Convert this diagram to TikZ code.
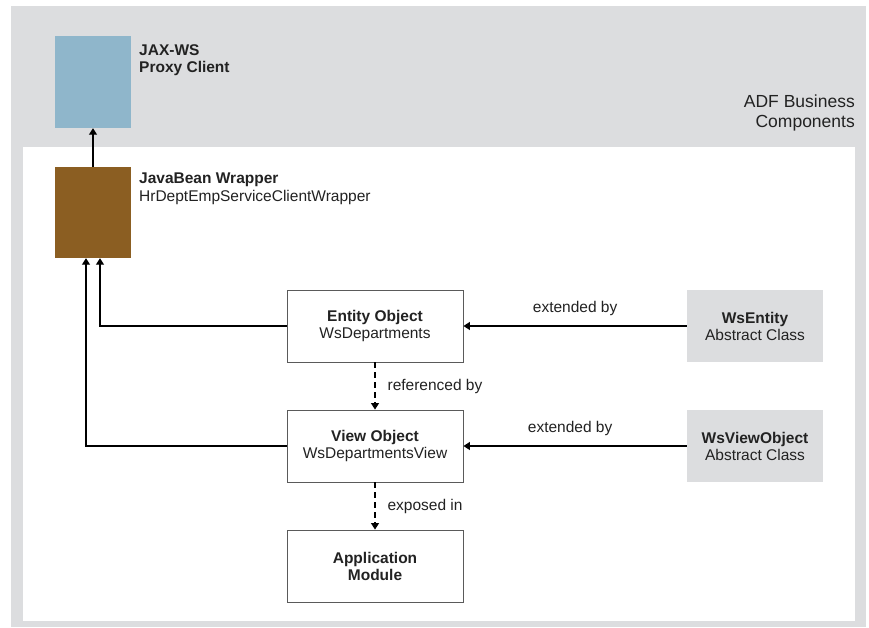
\documentclass[tikz,border=0pt]{standalone}
\usepackage{fontspec}
\setmainfont{Liberation Sans}
\usetikzlibrary{arrows.meta}
\definecolor{bggrey}{HTML}{DCDDDF}
\definecolor{proxyblue}{HTML}{8FB6CB}
\definecolor{wrapbrown}{HTML}{8B5E22}
\definecolor{boxline}{HTML}{5A5A5A}
\definecolor{txt}{HTML}{222222}
\tikzset{
  obj/.style={draw=boxline, line width=0.9pt, fill=white, minimum width=176pt, minimum height=72pt, align=center, font=\fontsize{15.5}{17}\selectfont, text=txt, inner sep=0pt},
  absbox/.style={fill=bggrey, minimum width=136pt, minimum height=72pt, align=center, font=\fontsize{15.5}{17}\selectfont, text=txt, inner sep=0pt},
  lbl/.style={font=\fontsize{15.5}{17.5}\selectfont, text=txt, inner sep=0pt, align=left},
  arr/.style={line width=1.2pt, draw=black, -{Triangle[width=8pt,length=6.5pt]}},
  darr/.style={arr, dash pattern=on 6pt off 4pt}
}
\begin{document}
\begin{tikzpicture}[x=1pt,y=-1pt]
\useasboundingbox (0,0) rectangle (869,627);
\fill[white] (0,0) rectangle (869,627);
\fill[bggrey] (11,6) rectangle (866,627);
\fill[white] (23,147) rectangle (855,621);
% left blocks
\node[fill=proxyblue, minimum width=76pt, minimum height=92pt, inner sep=0pt] (proxy) at (93,82) {};
\node[fill=wrapbrown, minimum width=76pt, minimum height=91pt, inner sep=0pt] (wrap) at (93,212.5) {};
\node[lbl, anchor=north west] (proxylbl) at (139,44) {\textbf{JAX-WS}\\\textbf{Proxy Client}};
\node[lbl, anchor=north west] (wraplbl) at (139,173) {\textbf{JavaBean Wrapper}\\HrDeptEmpServiceClientWrapper};
\node[lbl, anchor=north east, align=right, font=\fontsize{17.5}{19.5}\selectfont] (adf) at (855,95) {ADF Business\\Components};
% main objects
\node[obj] (eo) at (375,326) {\textbf{Entity Object}\\WsDepartments};
\node[obj] (vo) at (375,446) {\textbf{View Object}\\WsDepartmentsView};
\node[obj] (am) at (375,566) {\textbf{Application}\\\textbf{Module}};
\node[absbox] (wse) at (755,326) {\textbf{WsEntity}\\Abstract Class};
\node[absbox] (wsv) at (755,446) {\textbf{WsViewObject}\\Abstract Class};
% connectors
\draw[arr] (wrap.north) -- (proxy.south);
\draw[arr] (eo.west) -| ([xshift=7pt]wrap.south);
\draw[arr] (vo.west) -| ([xshift=-7pt]wrap.south);
\draw[arr] (wse.west) -- (eo.east) node[lbl, midway, above=10pt] (ext1) {extended by};
\draw[arr] (wsv.west) -- (vo.east) node[lbl, midway, above=10pt, xshift=-5pt] (ext2) {extended by};
\draw[darr] (eo.south) -- (vo.north) node[lbl, midway, right=12pt] (refby) {referenced by};
\draw[darr] (vo.south) -- (am.north) node[lbl, midway, right=12pt] (expin) {exposed in};
\end{tikzpicture}
\end{document}
